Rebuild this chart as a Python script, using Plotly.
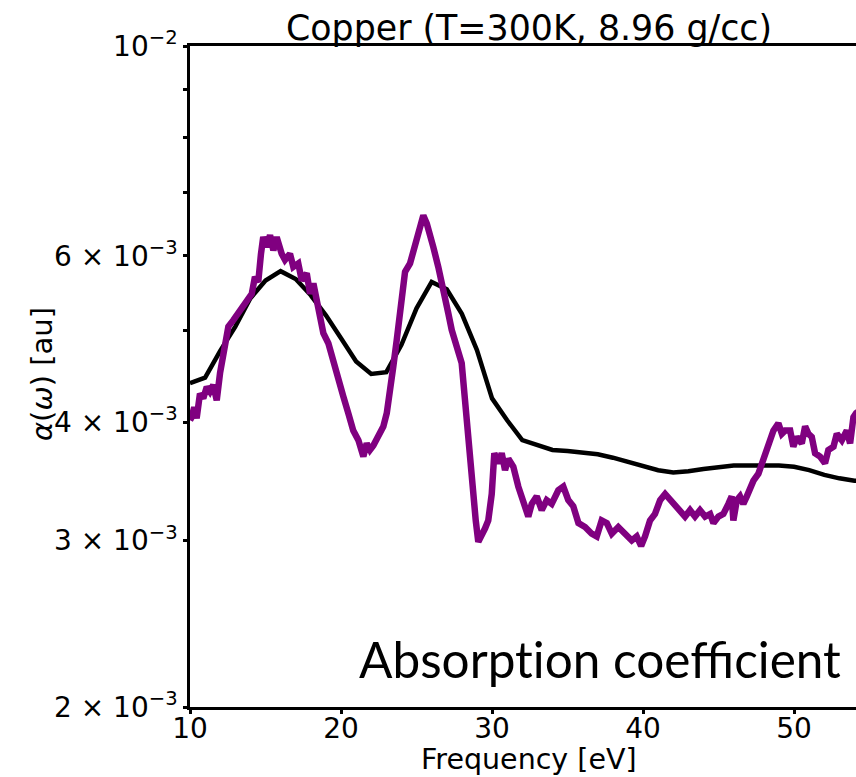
import math
import plotly.graph_objects as go

# ---------------- data ----------------
black_x = list(range(10, 56))
black_v = [4.40, 4.46, 4.76, 5.05, 5.41, 5.65, 5.78, 5.67, 5.45, 5.19,
           4.91, 4.64, 4.50, 4.52, 4.83, 5.28, 5.63, 5.53, 5.21, 4.77,
           4.24, 4.02, 3.83, 3.78, 3.74, 3.73, 3.72, 3.70, 3.67, 3.63,
           3.59, 3.56, 3.54, 3.55, 3.57, 3.585, 3.60, 3.60, 3.60, 3.60,
           3.59, 3.56, 3.52, 3.49, 3.47, 3.46]  # units of 1e-3

purple_x = [10.00, 10.11, 10.28, 10.44, 10.66, 10.88, 11.11, 11.32, 11.54, 11.77,
            11.99, 12.32, 12.54, 12.87, 13.20, 13.53, 13.86, 14.09, 14.30, 14.52,
            14.70, 14.85, 15.08, 15.30, 15.52, 15.74, 16.07, 16.29, 16.62, 16.84,
            17.17, 17.40, 17.73, 17.95, 18.17, 18.39, 18.61, 18.83, 19.16, 19.49,
            19.82, 20.15, 20.48, 20.81, 21.15, 21.37, 21.48, 21.70, 21.92, 22.14,
            22.36, 22.58, 22.80, 23.03, 23.25, 23.46, 23.69, 23.91, 24.06, 24.24,
            24.57, 24.90, 25.23, 25.45, 25.68, 25.89, 26.11, 26.44, 26.77, 27.11,
            27.33, 27.66, 27.99, 28.21, 28.48, 28.66, 28.92, 29.09, 29.32, 29.54,
            29.75, 29.98, 30.15, 30.42, 30.64, 30.86, 31.08, 31.41, 31.74, 32.07,
            32.40, 32.63, 32.96, 33.29, 33.62, 33.95, 34.39, 34.72, 35.05, 35.38,
            35.72, 36.16, 36.60, 36.93, 37.26, 37.60, 37.93, 38.36, 38.81, 39.25,
            39.58, 39.87, 40.13, 40.46, 40.79, 41.13, 41.46, 41.79, 42.12, 42.45,
            42.78, 43.11, 43.44, 43.77, 44.11, 44.44, 44.66, 44.99, 45.32, 45.65,
            45.87, 45.98, 46.21, 46.42, 46.64, 46.87, 47.09, 47.31, 47.64, 47.97,
            48.19, 48.41, 48.63, 48.96, 49.19, 49.40, 49.74, 49.95, 50.18, 50.51,
            50.73, 50.95, 51.17, 51.39, 51.72, 52.05, 52.27, 52.61, 52.83, 53.16,
            53.49, 53.71, 53.93, 54.11, 54.40]
purple_v = [4.02, 4.05, 4.15, 4.04, 4.29, 4.24, 4.36, 4.31, 4.38, 4.22,
            4.51, 4.81, 5.05, 5.13, 5.23, 5.30, 5.41, 5.47, 5.70, 5.63,
            6.03, 6.28, 6.13, 6.31, 6.08, 6.28, 6.03, 5.94, 6.03, 5.84,
            5.89, 5.65, 5.75, 5.47, 5.61, 5.39, 5.19, 4.97, 4.85, 4.62,
            4.47, 4.26, 4.09, 3.92, 3.83, 3.74, 3.68, 3.80, 3.74, 3.78,
            3.83, 3.89, 3.96, 4.09, 4.29, 4.58, 4.89, 5.26, 5.56, 5.77,
            5.89, 6.18, 6.44, 6.62, 6.49, 6.33, 6.13, 5.84, 5.47, 5.21,
            5.01, 4.81, 4.62, 4.22, 3.74, 3.45, 3.15, 2.99, 3.03, 3.09,
            3.15, 3.36, 3.71, 3.62, 3.71, 3.56, 3.66, 3.59, 3.42, 3.31,
            3.18, 3.28, 3.34, 3.23, 3.31, 3.28, 3.39, 3.42, 3.31, 3.26,
            3.13, 3.10, 3.05, 3.03, 3.15, 3.13, 3.05, 3.10, 3.05, 3.00,
            3.03, 2.96, 3.03, 3.15, 3.20, 3.31, 3.36, 3.31, 3.26, 3.23,
            3.18, 3.23, 3.18, 3.23, 3.18, 3.20, 3.13, 3.18, 3.20, 3.28,
            3.34, 3.15, 3.31, 3.34, 3.28, 3.34, 3.42, 3.47, 3.53, 3.65,
            3.77, 3.86, 3.92, 3.99, 3.89, 3.92, 3.92, 3.77, 3.86, 3.80,
            3.96, 3.89, 3.86, 3.71, 3.68, 3.62, 3.74, 3.77, 3.89, 3.83,
            3.92, 3.80, 4.05, 4.09, 4.12]  # units of 1e-3

x_ticks = [10, 20, 30, 40, 50]
y_tickvals = [0.002, 0.003, 0.004, 0.005, 0.006, 0.007, 0.008, 0.009, 0.01]
y_ticktext = ["2 × 10<sup>−3</sup>", "3 × 10<sup>−3</sup>", "4 × 10<sup>−3</sup>", "",
              "6 × 10<sup>−3</sup>", "", "", "", "10<sup>−2</sup>"]

title_text = "Copper (T=300K, 8.96 g/cc)"
x_title = "Frequency [eV]"
y_title = "<i>α</i>(<i>ω</i>) [au]"
panel_label = "Absorpt\u200Cion coefficient"

# ---------------- figure ----------------
black_y = [v * 1e-3 for v in black_v]
purple_y = [v * 1e-3 for v in purple_v]

FONT = "DejaVu Sans"
fig = go.Figure()
fig.add_trace(go.Scatter(x=black_x, y=black_y, mode="lines",
                         line=dict(color="black", width=4.5)))
fig.add_trace(go.Scatter(x=purple_x, y=purple_y, mode="lines",
                         line=dict(color="#800080", width=6.5)))

W, H = 856, 777
L, R, T, B = 190, 0, 46, 70
plot_h = H - T - B
plot_w = W - L - R

fig.update_layout(
    width=W, height=H,
    margin=dict(l=L, r=R, t=T, b=B, pad=0),
    showlegend=False,
    plot_bgcolor="white", paper_bgcolor="white",
    font=dict(family=FONT, color="black"),
    xaxis=dict(range=[10, 54.1], tickmode="array", tickvals=x_ticks,
               ticks="outside", ticklen=4, tickwidth=2.5, tickcolor="black",
               ticklabelstandoff=-9,
               showline=True, linecolor="black", linewidth=2.5, mirror=True,
               showgrid=False, zeroline=False,
               tickfont=dict(family=FONT, size=28, color="black")),
    yaxis=dict(type="log", range=[math.log10(0.002), math.log10(0.01)],
               tickmode="array", tickvals=y_tickvals, ticktext=y_ticktext,
               ticks="outside", ticklen=4, tickwidth=2.5, tickcolor="black",
               showline=True, linecolor="black", linewidth=2.5, mirror=False,
               showgrid=False, zeroline=False,
               tickfont=dict(family=FONT, size=28, color="black")),
)

def px_x(px):
    return (px - L) / plot_w

def px_y(py):
    return (H - B - py) / plot_h

fig.add_annotation(text=title_text, xref="paper", yref="paper",
                   x=px_x(529), y=px_y(28), xanchor="center", yanchor="middle",
                   showarrow=False, font=dict(family=FONT, size=34.8, color="black"))
fig.add_annotation(text=x_title, xref="paper", yref="paper",
                   x=px_x(529), y=px_y(760), xanchor="center", yanchor="middle",
                   showarrow=False, font=dict(family=FONT, size=28.5, color="black"))
fig.add_annotation(text=y_title, xref="paper", yref="paper",
                   x=px_x(42), y=px_y(374), xanchor="center", yanchor="middle",
                   textangle=-90, showarrow=False,
                   font=dict(family=FONT, size=29, color="black"))
fig.add_annotation(text=panel_label, xref="paper", yref="paper",
                   x=px_x(843), y=px_y(659), xanchor="right", yanchor="middle",
                   showarrow=False, font=dict(family="Lato", size=49.5, color="black"))

fig.write_html("out.html")
